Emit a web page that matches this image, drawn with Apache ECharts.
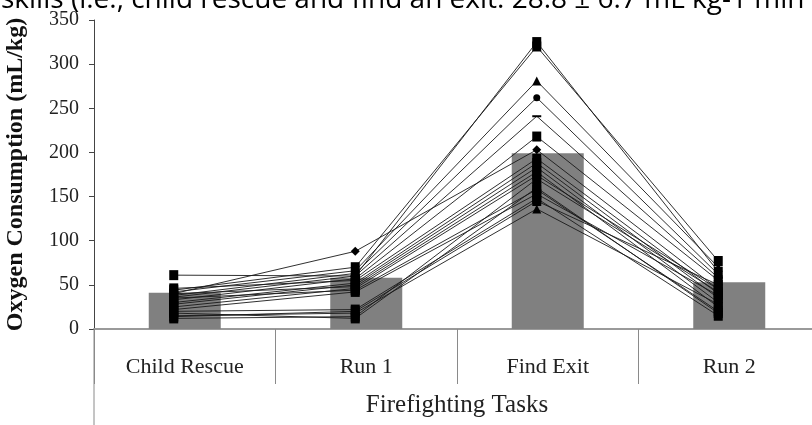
<!DOCTYPE html>
<html>
<head>
<meta charset="utf-8">
<script src="https://cdn.jsdelivr.net/npm/echarts@6/dist/echarts.min.js"></script>
<style>html,body{margin:0;padding:0;background:#fff;}#c{width:812px;height:425px;}</style>
</head>
<body>
<div id="c"></div>
<script>
// ---- data ----
var categories = ['Child Rescue', 'Run 1', 'Find Exit', 'Run 2'];
var meanValues = [41, 58, 199, 53];
var yTicks = [0, 350, 50]; // min, max, interval
var captionText = 'skills (i.e., child rescue and find an exit. 28.8 \u00b1 6.7 mL kg-1 min';
var xTitle = 'Firefighting Tasks';
var yTitle = 'Oxygen Consumption (mL/kg)';
// individual participants: values at [Child Rescue, Run 1, Find Exit, Run 2]
var p01 = [61, 60, 325, 65];
var p02 = [40, 88, 203, 45];
var p03 = [44, 70, 320, 77];
var p04 = [42, 66, 281, 70];
var p05 = [38, 63, 262, 62];
var p06 = [36, 60, 241, 58];
var p07 = [33, 57, 218, 55];
var p08 = [46, 55, 193, 40];
var p09 = [30, 52, 188, 35];
var p10 = [28, 50, 183, 30];
var p11 = [40, 48, 178, 25];
var p12 = [25, 46, 174, 45];
var p13 = [35, 44, 158, 20];
var p14 = [22, 42, 153, 38];
var p15 = [20, 22, 148, 15];
var p16 = [15, 18, 136, 28];
var p17 = [12, 14, 170, 42];
var p18 = [18, 12, 160, 18];
var p19 = [14, 20, 145, 50];
var participants = [p01, p02, p03, p04, p05, p06, p07, p08, p09, p10, p11, p12, p13, p14, p15, p16, p17, p18, p19];
var markers = ['rect', 'diamond', 'rect', 'triangle', 'circle', 'dash', 'rect', 'rect', 'rect', 'rect',
               'rect', 'rect', 'rect', 'rect', 'rect', 'triangle', 'rect', 'rect', 'rect'];

var chart = echarts.init(document.getElementById('c'), null, {renderer: 'canvas'});
var serif = '"Liberation Serif", "DejaVu Serif", serif';
var GL = 94, GT = 20, GW = 726, GH = 309;

var lineSeries = participants.map(function (vals, i) {
  var m = markers[i];
  var sym = m === 'dash' ? 'rect' : m;
  var size = m === 'rect' ? [9, 10] : m === 'dash' ? [9, 2] : m === 'circle' ? 7 : 9;
  return {
    type: 'line', xAxisIndex: 1, yAxisIndex: 1, data: vals,
    symbol: sym, symbolSize: size, showSymbol: true,
    lineStyle: {color: '#1a1a1a', width: 1, opacity: 0.9},
    itemStyle: {color: '#000', borderWidth: 0},
    z: 5, animation: false, silent: true
  };
});

chart.setOption({
  animation: false,
  backgroundColor: '#fff',
  grid: [
    {left: GL, top: GT, width: GW, height: GH, containLabel: false, outerBoundsMode: 'none'},
    {left: GL - 11, top: GT, width: GW, height: GH, containLabel: false, outerBoundsMode: 'none'}
  ],
  xAxis: [
    {
      type: 'category', gridIndex: 0, data: categories, boundaryGap: true,
      axisLine: {lineStyle: {color: '#9a9a9a', width: 2}},
      axisTick: {show: true, interval: 0, length: 55, alignWithLabel: false, lineStyle: {color: '#8a8a8a', width: 1}},
      axisLabel: {interval: 0, margin: 27, color: '#222', fontFamily: serif, fontSize: 22},
      name: xTitle, nameLocation: 'middle', nameGap: 64,
      nameTextStyle: {color: '#222', fontFamily: serif, fontSize: 25}
    },
    {
      type: 'category', gridIndex: 1, data: categories, boundaryGap: true, show: false
    }
  ],
  yAxis: [
    {
      type: 'value', gridIndex: 0, min: yTicks[0], max: yTicks[1], interval: yTicks[2],
      axisLine: {show: true, lineStyle: {color: '#444', width: 1}},
      axisTick: {show: true, length: 5, lineStyle: {color: '#444'}},
      splitLine: {show: false},
      axisLabel: {margin: 15, color: '#222', fontFamily: serif, fontSize: 20},
      name: yTitle, nameLocation: 'middle', nameGap: 66, nameRotate: 90,
      nameTextStyle: {color: '#111', fontFamily: serif, fontSize: 24, fontWeight: 'bold'}
    },
    {
      type: 'value', gridIndex: 1, min: yTicks[0], max: yTicks[1], interval: yTicks[2], show: false
    }
  ],
  graphic: [
    {type: 'line', shape: {x1: GL, y1: GT + GH, x2: GL, y2: 425}, style: {stroke: '#8a8a8a', lineWidth: 1}, z: 10},
    {type: 'text', x: 1, y: 0, style: {text: captionText, font: '28px "Open Sans", sans-serif', fill: '#000', verticalAlign: 'middle'}, z: 10}
  ],
  series: [
    {
      type: 'bar', xAxisIndex: 0, yAxisIndex: 0, data: meanValues, barWidth: 72,
      itemStyle: {color: '#808080'}, z: 2, silent: true
    }
  ].concat(lineSeries)
});
</script>
</body>
</html>
